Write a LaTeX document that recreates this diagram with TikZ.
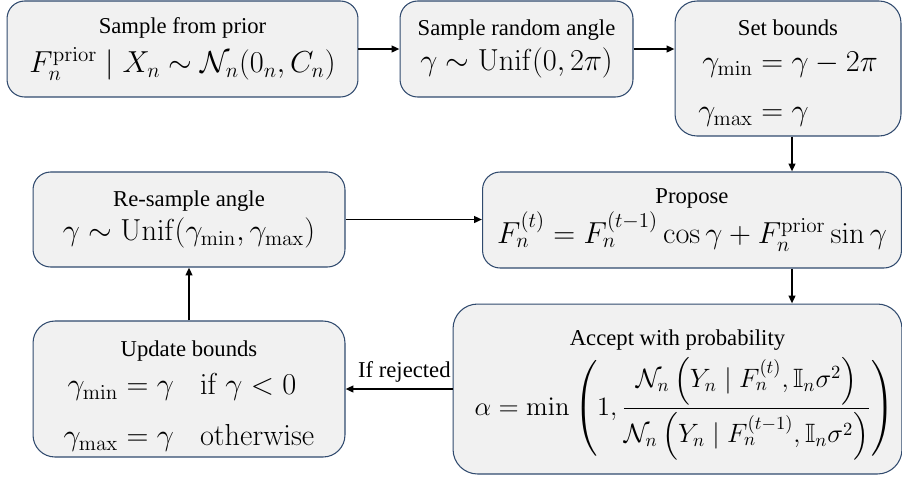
\RequirePackage{fix-cm}
\documentclass[tikz,border=0pt]{standalone}
\usepackage{amsmath,amssymb}
\usepackage[no-math]{fontspec}
\setmainfont{Liberation Serif}
\usepackage{tikz}
\usetikzlibrary{arrows.meta}

\newcommand{\mfont}{\fontsize{17.28}{20}\selectfont}

\begin{document}
\begin{tikzpicture}[x=0.02cm,y=-0.02cm,
  stepbox/.style={draw=boxline, fill=boxfill, line width=0.6pt, rounded corners=10pt,
    align=center, inner sep=0pt, font=\fontsize{12.9}{15}\selectfont},
  flow/.style={line width=1.1pt, -{Triangle[length=4.5pt,width=3.8pt]}}]
\definecolor{boxline}{HTML}{304A6E}
\definecolor{boxfill}{HTML}{F1F1F1}
\useasboundingbox (0,0) rectangle (902,478);
\node[stepbox, minimum width=7.02cm, minimum height=1.92cm] (prior) at (182.5,49)
  {Sample from prior\\[4pt] {\mfont $F_n^{\mathrm{prior}} \mid X_n \sim \mathcal{N}_n(0_n, C_n)$}};
\node[stepbox, minimum width=4.66cm, minimum height=1.92cm] (angle) at (516.5,49)
  {Sample random angle\\[3pt] {\mfont $\gamma \sim \mathrm{Unif}(0, 2\pi)$}};
\node[stepbox, rounded corners=12.5pt, minimum width=4.52cm, minimum height=2.70cm] (bounds) at (788,68.5)
  {Set bounds\rule{0pt}{17pt}\\[5pt] {\mfont $\begin{aligned}\gamma_{\min} &= \gamma - 2\pi\\[5pt] \gamma_{\max} &= \gamma\end{aligned}$}};
\node[stepbox, minimum width=6.24cm, minimum height=1.90cm] (resample) at (189,219.5)
  {Re-sample angle\\[3pt] {\mfont $\gamma \sim \mathrm{Unif}(\gamma_{\min}, \gamma_{\max})$}};
\node[stepbox, minimum width=8.38cm, minimum height=1.92cm] (propose) at (692,220)
  {Propose\\[1pt] {\mfont $F_n^{(t)} = F_n^{(t-1)} \cos\gamma + F_n^{\mathrm{prior}} \sin\gamma$}};
\node[stepbox, rounded corners=14pt, minimum width=8.98cm, minimum height=3.40cm] (accept) at (677.5,389)
  {\rule{0pt}{15.5pt}Accept with probability\\[3pt] {\fontsize{15.1}{18}\selectfont \hspace*{8pt}$\displaystyle \alpha = \min\left(1, \frac{\mathcal{N}_n\left(Y_n \mid F_n^{(t)}, \mathbb{I}_n\sigma^2\right)}{\mathcal{N}_n\left(Y_n \mid F_n^{(t-1)}, \mathbb{I}_n\sigma^2\right)}\right)$}};
\node[stepbox, rounded corners=12.5pt, minimum width=6.24cm, minimum height=2.72cm] (update) at (189,389)
  {\rule{0pt}{20pt}Update bounds\\[4pt] {\mfont $\begin{aligned}\gamma_{\min} &= \gamma &&\;\mathrm{if}\ \gamma < 0\\[6pt] \gamma_{\max} &= \gamma &&\;\mathrm{otherwise}\end{aligned}$}};
\draw[flow] (prior.east) -- (angle.west);
\draw[flow] (angle.east) -- (angle.east -| bounds.west);
\draw[flow] (bounds.south) ++(4,0) coordinate (b) -- (b |- propose.north);
\draw[flow] (b |- propose.south) -- (b |- accept.north);
\draw[flow] (accept.west) -- node[above, pos=0.45, font=\fontsize{12.9}{15}\selectfont] {If rejected} (update.east);
\draw[flow] (update.north) -- (resample.south);
\draw[flow] (resample.east) -- (resample.east -| propose.west);
\end{tikzpicture}
\end{document}
